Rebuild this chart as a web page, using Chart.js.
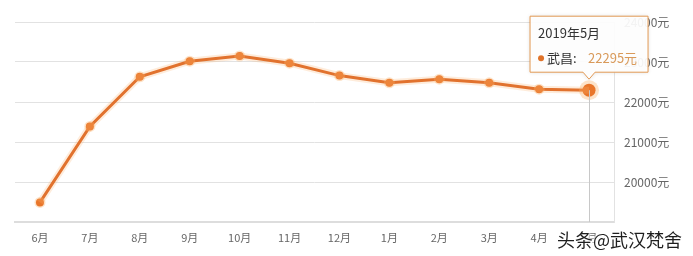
<!DOCTYPE html>
<html>
<head>
<meta charset="utf-8">
<script src="https://cdn.jsdelivr.net/npm/chart.js@4"></script>
<style>
  body { margin: 0; background: #fff; }
  #wrap { position: relative; width: 693px; height: 256px; }
  #mark {
    position: absolute; left: 557px; top: 226px;
    font: 18px "Noto Sans CJK SC", sans-serif; color: #1e1e1e;
    text-shadow: 0 0 2px #fff, 0 0 3px #fff, 0 0 3px #fff, 1px 1px 2px #fff;
  }
</style>
</head>
<body>
<div id="wrap">
  <canvas id="c" width="693" height="256"></canvas>
  <div id="mark">头条@武汉梵舍</div>
</div>
<script>
const months = ["6月", "7月", "8月", "9月", "10月", "11月", "12月", "1月", "2月", "3月", "4月", "5月"];
const prices = [19490, 21390, 22630, 23020, 23150, 22970, 22660, 22480, 22570, 22480, 22320, 22295];
const seriesName = "武昌";
const tipTitle = "2019年5月";
const lastIdx = prices.length - 1;

// draws the hover line and tooltip over the last point
const tipPlugin = {
  id: "tip",
  afterDatasetsDraw(chart) {
    const ctx = chart.ctx;
    const pt = chart.getDatasetMeta(1).data[lastIdx];
    const area = chart.chartArea;
    ctx.save();
    ctx.strokeStyle = "#c8c8c8";
    ctx.lineWidth = 1;
    ctx.beginPath();
    ctx.moveTo(Math.round(pt.x) + 0.5, pt.y);
    ctx.lineTo(Math.round(pt.x) + 0.5, area.bottom);
    ctx.stroke();

    const w = 118, h = 56;
    const x0 = pt.x - 59, y0 = pt.y - 74;
    ctx.shadowColor = "rgba(0,0,0,0.15)";
    ctx.shadowBlur = 4;
    ctx.fillStyle = "rgba(255,255,255,0.93)";
    ctx.strokeStyle = "#e39a55";
    ctx.beginPath();
    ctx.moveTo(x0, y0);
    ctx.lineTo(x0 + w, y0);
    ctx.lineTo(x0 + w, y0 + h);
    ctx.lineTo(pt.x + 6, y0 + h);
    ctx.lineTo(pt.x, y0 + h + 7);
    ctx.lineTo(pt.x - 6, y0 + h);
    ctx.lineTo(x0, y0 + h);
    ctx.closePath();
    ctx.fill();
    ctx.shadowColor = "transparent";
    ctx.stroke();

    ctx.font = "13px 'Noto Sans CJK SC', sans-serif";
    ctx.textBaseline = "middle";
    ctx.fillStyle = "#333";
    ctx.fillText(tipTitle, x0 + 8, y0 + 17);
    ctx.fillStyle = "#e0732a";
    ctx.beginPath();
    ctx.arc(x0 + 11, y0 + 42, 3, 0, Math.PI * 2);
    ctx.fill();
    ctx.fillStyle = "#333";
    ctx.fillText(seriesName + ":", x0 + 17, y0 + 42);
    ctx.fillStyle = "#d99a5a";
    ctx.fillText(prices[lastIdx] + "元", x0 + 58, y0 + 42);
    ctx.restore();
  }
};

new Chart(document.getElementById("c"), {
  type: "line",
  data: {
    labels: months,
    datasets: [{
      data: prices,
      borderColor: "rgba(250,180,110,0.25)",
      borderWidth: 7,
      pointRadius: ctx => ctx.dataIndex === lastIdx ? 10 : 5.5,
      pointBackgroundColor: "rgba(250,175,100,0.35)",
      pointBorderWidth: 0,
      tension: 0
    }, {
      data: prices,
      borderColor: "#d95c18",
      borderWidth: 3,
      pointRadius: ctx => ctx.dataIndex === lastIdx ? 6.5 : 4,
      pointBackgroundColor: "#e0580c",
      pointBorderWidth: 0,
      tension: 0
    }]
  },
  options: {
    responsive: false,
    animation: false,
    layout: { padding: { left: 15, top: 22, right: 0, bottom: 0 } },
    plugins: { legend: { display: false }, tooltip: { enabled: false } },
    scales: {
      x: {
        offset: true,
        afterFit: s => { s.height = 34; },
        grid: { display: false, drawTicks: true, tickLength: 5, tickColor: "#ccc" },
        border: { color: "#ddd", width: 2 },
        ticks: { color: "#666", font: { size: 11, family: "'Noto Sans CJK SC', sans-serif" }, padding: 4 }
      },
      y: {
        position: "right",
        min: 19000,
        max: 24000,
        afterFit: s => { s.width = 79; },
        grid: { color: "#e2e2e2", drawTicks: false },
        border: { color: "#e2e2e2" },
        ticks: {
          stepSize: 1000,
          padding: 10,
          color: "#666",
          font: { size: 12, family: "'Noto Sans CJK SC', sans-serif" },
          callback: v => v === 19000 ? "" : v + "元"
        }
      }
    }
  },
  plugins: [tipPlugin]
});
</script>
</body>
</html>
